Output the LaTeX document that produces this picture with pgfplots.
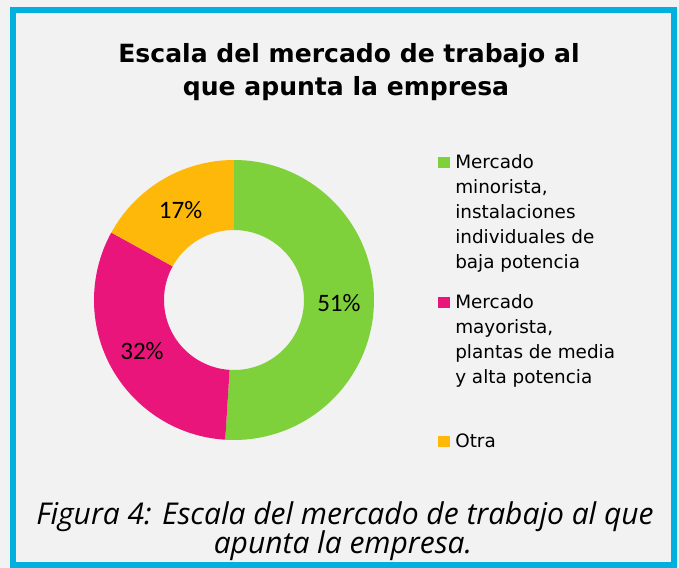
\documentclass[border=0pt]{standalone}
\usepackage{pgfplots}
\pgfplotsset{compat=1.18}
\usepackage{pgfplotstable}
\usepackage{fontspec}
\setmainfont{DejaVu Sans}
\newfontfamily\labelfont{Carlito}
\newfontfamily\capfont{Open Sans}
\definecolor{cgreen}{HTML}{7FD13B}
\definecolor{cmag}{HTML}{EA157A}
\definecolor{corange}{HTML}{FEB80A}
\definecolor{cframe}{HTML}{00B0DF}
\definecolor{cbg}{HTML}{F2F2F2}
\pgfplotstableread{
idx value
0 51
1 32
2 17
}\datatable
\pgfplotstablegetelem{0}{value}\of\datatable \let\vA\pgfplotsretval
\pgfplotstablegetelem{1}{value}\of\datatable \let\vB\pgfplotsretval
\pgfplotstablegetelem{2}{value}\of\datatable \let\vC\pgfplotsretval
\pgfmathsetmacro\tot{\vA+\vB+\vC}
\pgfmathsetmacro\aA{90}
\pgfmathsetmacro\aB{\aA-360*(\vA/\tot)}
\pgfmathsetmacro\aC{\aB-360*(\vB/\tot)}
\pgfmathsetmacro\aD{\aC-360*(\vC/\tot)}
\pgfmathsetmacro\mA{(\aA+\aB)/2}
\pgfmathsetmacro\mB{(\aB+\aC)/2}
\pgfmathsetmacro\mC{(\aC+\aD)/2}
\newcommand\slice[3]{%
  \fill[#3] (axis cs:{140*cos(#1)},{140*sin(#1)}) arc[start angle=#1, end angle=#2, radius=105pt]
    -- (axis cs:{70*cos(#2)},{70*sin(#2)}) arc[start angle=#2, end angle=#1, radius=52.5pt] -- cycle;}
\begin{document}
\begin{tikzpicture}[x=0.75pt,y=-0.75pt]
\fill[cbg] (0,0) rectangle (679,568);
\draw[cframe, line width=4.5pt] (13,10) rectangle (674,565);
\coordinate (dc) at (234,300);
\begin{axis}[at={(dc)}, anchor=center, x=0.75pt, y=0.75pt,
  xmin=-140, xmax=140, ymin=-140, ymax=140, hide axis, clip=false]
\slice{\aA}{\aB}{cgreen}
\slice{\aB}{\aC}{cmag}
\slice{\aC}{\aD}{corange}
\node[font=\labelfont\fontsize{18.8}{22}\selectfont] at (axis cs:{105*cos(\mA)},{105*sin(\mA)}) {\vA\%};
\node[font=\labelfont\fontsize{18.8}{22}\selectfont] at (axis cs:{105*cos(\mB)},{105*sin(\mB)}) {\vB\%};
\node[font=\labelfont\fontsize{18.8}{22}\selectfont] at (axis cs:{105*cos(\mC)},{105*sin(\mC)}) {\vC\%};
\end{axis}
% title
\node[anchor=base, font=\bfseries\fontsize{18.8}{25}\selectfont] at (349,62) {Escala del mercado de trabajo al};
\node[anchor=base, font=\bfseries\fontsize{18.8}{25}\selectfont] at (346,95) {que apunta la empresa};
% legend
\fill[cgreen] (438,157) rectangle (450,168);
\fill[cmag] (438,297) rectangle (450,308);
\fill[corange] (438,436) rectangle (450,447);
\foreach \t/\yy in {Mercado/168, {minorista,}/193, instalaciones/218, individuales de/243, baja potencia/268,
  Mercado/308, {mayorista,}/333, plantas de media/358, y alta potencia/383, Otra/447}
  \node[anchor=base west, inner sep=0pt, font=\fontsize{13.8}{17}\selectfont] at (455,\yy) {\t};
% caption
\node[anchor=base, font=\capfont\itshape\fontsize{22.5}{25}\selectfont] at (345,524) {Figura 4: Escala del mercado de trabajo al que};
\node[anchor=base, font=\capfont\itshape\fontsize{22.5}{25}\selectfont] at (343,553) {apunta la empresa.};
\end{tikzpicture}
\end{document}
